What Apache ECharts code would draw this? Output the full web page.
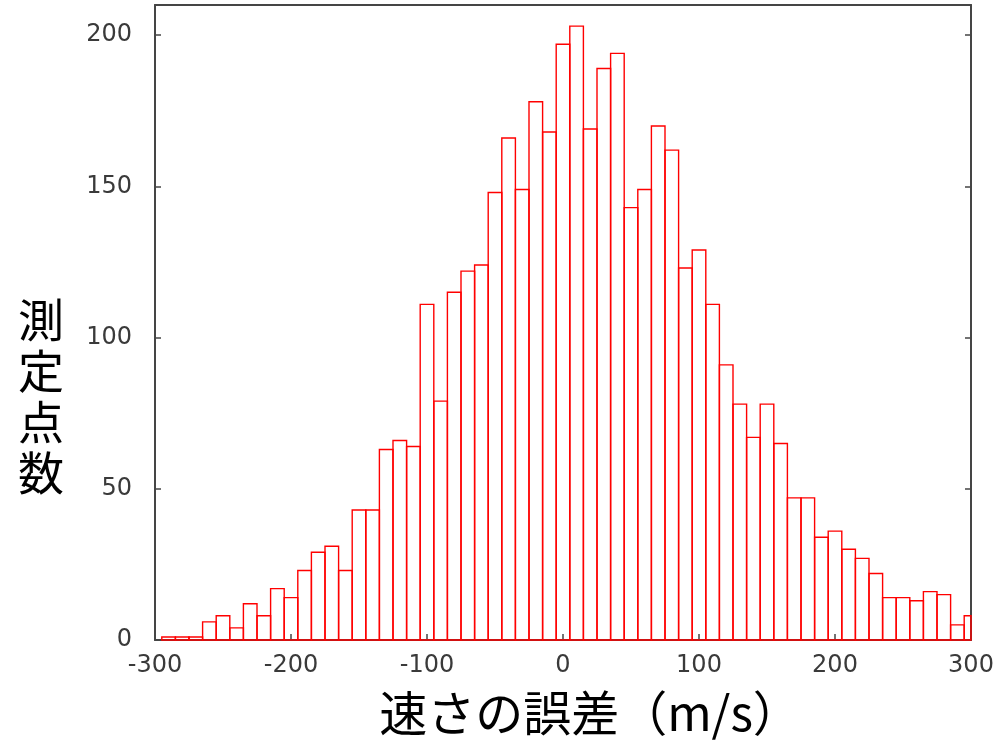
<!DOCTYPE html>
<html>
<head>
<meta charset="utf-8">
<script src="https://cdn.jsdelivr.net/npm/echarts@6/dist/echarts.min.js"></script>
<style>html,body{margin:0;padding:0;background:#fff}#c{width:999px;height:742px}</style>
</head>
<body>
<div id="c"></div>
<script>
// Histogram bins: centers (m/s) and counts
var binCenters = [-290,-280,-270,-260,-250,-240,-230,-220,-210,-200,
  -190,-180,-170,-160,-150,-140,-130,-120,-110,-100,
  -90,-80,-70,-60,-50,-40,-30,-20,-10,0,
  10,20,30,40,50,60,70,80,90,100,
  110,120,130,140,150,160,170,180,190,200,
  210,220,230,240,250,260,270,280,290,300];
var counts = [1,1,1,6,8,4,12,8,17,14,
  23,29,31,23,43,43,63,66,64,111,
  79,115,122,124,148,166,149,178,168,197,
  203,169,189,194,143,149,170,162,123,129,
  111,91,78,67,78,65,47,47,34,36,
  30,27,22,14,14,13,16,15,5,8];
var binWidth = 10;
var xTicks = [-300,-200,-100,0,100,200,300];
var yTicks = [0,50,100,150,200];
var xTitle = '速さの誤差（m/s）';
var yTitle = '測定点数';

var data = binCenters.map(function(c, i){ return [c, counts[i]]; });
var frameColor = '#454545';
var labelStyle = {color:'#3a3a3a', fontFamily:'DejaVu Sans', fontSize:24};

var chart = echarts.init(document.getElementById('c'), null, {renderer:'canvas'});
chart.setOption({
  animation:false,
  backgroundColor:'#fff',
  grid:{left:155, right:28, top:5, bottom:102, containLabel:false, outerBoundsMode:'none'},
  graphic:[
    {type:'text', x:590, y:713, style:{text:xTitle, fontFamily:'Noto Sans CJK JP', fontSize:48, fill:'#000', align:'center', verticalAlign:'middle'}},
    {type:'text', x:41, y:396, style:{text:yTitle.split('').join('\n'), fontFamily:'Noto Sans CJK JP', fontSize:46, lineHeight:51, fill:'#000', align:'center', verticalAlign:'middle'}}
  ],
  xAxis:[{
    type:'value', min:xTicks[0], max:xTicks[xTicks.length-1], interval:100,
    axisLine:{show:true, onZero:false, lineStyle:{color:frameColor, width:2}},
    axisTick:{show:true, inside:true, length:6, lineStyle:{color:frameColor, width:1.5}},
    splitLine:{show:false},
    axisLabel:Object.assign({margin:14}, labelStyle)
  },{
    type:'value', position:'top', min:xTicks[0], max:xTicks[xTicks.length-1], interval:100,
    axisLine:{show:true, onZero:false, lineStyle:{color:frameColor, width:2}},
    axisTick:{show:false}, axisLabel:{show:false}, splitLine:{show:false}
  }],
  yAxis:[{
    type:'value', min:0, max:210, interval:50,
    axisLine:{show:true, onZero:false, lineStyle:{color:frameColor, width:2}},
    axisTick:{show:true, inside:true, length:6, lineStyle:{color:frameColor, width:1.5}},
    splitLine:{show:false},
    axisLabel:Object.assign({margin:23, formatter:function(v){return yTicks.indexOf(v)>=0 ? String(v) : '';}}, labelStyle)
  },{
    type:'value', position:'right', min:0, max:210, interval:50,
    axisLine:{show:true, onZero:false, lineStyle:{color:frameColor, width:2}},
    axisTick:{show:true, inside:true, length:6, lineStyle:{color:frameColor, width:1.5}},
    axisLabel:{show:false}, splitLine:{show:false}
  }],
  series:[{
    type:'custom',
    xAxisIndex:0, yAxisIndex:0,
    data:data,
    renderItem:function(params, api){
      var c = api.value(0), v = api.value(1);
      var p0 = api.coord([c - binWidth/2, v]);
      var p1 = api.coord([c + binWidth/2, 0]);
      var rect = {x:p0[0], y:p0[1], width:p1[0]-p0[0], height:p1[1]-p0[1]};
      var cs = params.coordSys;
      var clipped = echarts.graphic.clipRectByRect(rect, {x:cs.x, y:cs.y, width:cs.width, height:cs.height});
      if (!clipped) return;
      return {type:'rect', shape:clipped,
        style:{fill:'rgba(255,255,255,0)', stroke:'#ff0000', lineWidth:1.4}};
    },
    z:1
  }]
});
</script>
</body>
</html>
